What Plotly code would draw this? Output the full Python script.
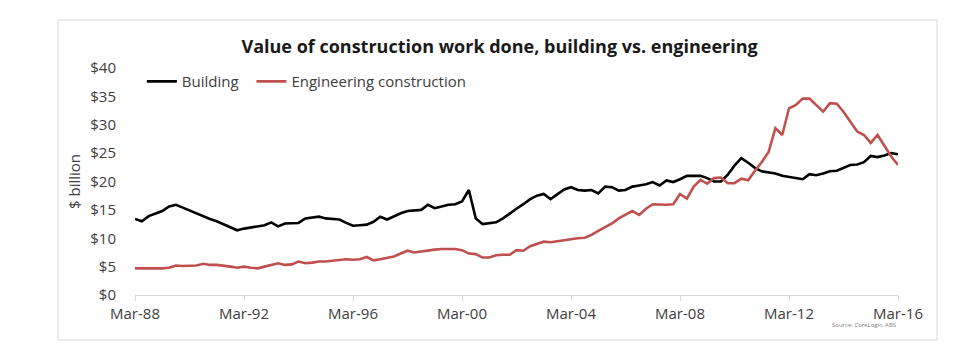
import pandas as pd
import plotly.graph_objects as go

quarters = pd.date_range("1988-03-01", periods=113, freq="3MS")

building = [
    13.4, 13.0, 13.9, 14.3, 14.8, 15.6, 15.9, 15.4, 14.9, 14.3,
    13.8, 13.4, 13.0, 12.5, 11.9, 11.4, 11.7, 11.9, 12.0, 12.3,
    12.8, 12.1, 12.6, 12.7, 12.7, 13.5, 13.7, 13.8, 13.5, 13.4,
    13.3, 12.7, 12.2, 12.3, 12.4, 12.9, 13.8, 13.3, 13.9, 14.4,
    14.8, 14.9, 15.0, 15.9, 15.3, 15.6, 15.9, 16.0, 16.5, 18.5,
    13.5, 12.5, 12.7, 12.8, 13.5, 14.4, 15.2, 16.0, 16.9, 17.5,
    17.8, 16.9, 17.8, 18.6, 19.0, 18.5, 18.4, 18.5, 17.9, 19.1,
    19.0, 18.4, 18.5, 19.1, 19.3, 19.5, 19.9, 19.3, 20.2, 19.9,
    20.4, 21.0, 21.0, 21.0, 20.6, 20.0, 20.0, 21.2, 22.8, 24.1,
    23.3, 22.4, 21.8, 21.6, 21.4, 21.0, 20.8, 20.6, 20.4, 21.3,
    21.1, 21.4, 21.8, 21.9, 22.4, 22.9, 23.0, 23.4, 24.5, 24.3,
    24.6, 25.0, 24.8,
]

engineering = [
    4.7, 4.7, 4.6, 4.6, 4.7, 4.8, 5.2, 5.1, 5.2, 5.2,
    5.5, 5.3, 5.3, 5.2, 5.0, 4.8, 5.0, 4.8, 4.7, 5.0,
    5.3, 5.6, 5.3, 5.4, 5.9, 5.6, 5.7, 5.9, 5.9, 6.0,
    6.1, 6.3, 6.2, 6.3, 6.7, 6.1, 6.3, 6.5, 6.8, 7.3,
    7.8, 7.5, 7.7, 7.9, 8.0, 8.1, 8.1, 8.1, 7.9, 7.3,
    7.2, 6.6, 6.6, 7.0, 7.1, 7.1, 7.9, 7.8, 8.6, 9.0,
    9.4, 9.3, 9.5, 9.7, 9.9, 10.0, 10.1, 10.6, 11.3, 11.9,
    12.6, 13.5, 14.1, 14.8, 14.1, 15.2, 16.0, 15.9, 15.9, 16.0,
    17.8, 17.0, 19.1, 20.3, 19.6, 20.6, 20.7, 19.7, 19.7, 20.5,
    20.2, 21.9, 23.4, 25.2, 29.4, 28.2, 32.9, 33.5, 34.6, 34.6,
    33.5, 32.3, 33.8, 33.7, 32.3, 30.5, 28.8, 28.2, 26.8, 28.2,
    26.2, 24.4, 22.9,
]

y_ticks = [0, 5, 10, 15, 20, 25, 30, 35, 40]
y_tick_labels = ["$" + str(v) for v in y_ticks]

FONT = "'Open Sans', Lato, sans-serif"
TXT = "#404040"
NB = "\u00a0"

fig = go.Figure()
fig.add_trace(go.Scatter(x=quarters, y=building, mode="lines", name="Building" + NB * 2,
                         line=dict(color="#000000", width=2.6)))
fig.add_trace(go.Scatter(x=quarters, y=engineering, mode="lines", name="Engineering construction",
                         line=dict(color="#c0504d", width=2.6)))

# page body has an 8px margin, so the figure is sized to fit inside 970x364
fig.update_layout(
    width=962, height=356,
    margin=dict(l=127, r=72, t=60, b=69),
    paper_bgcolor="white", plot_bgcolor="white",
    font=dict(family=FONT, size=15, color=TXT),
    title=dict(text="<b>Value of construction work done, building vs. engineering</b>",
               x=0.511, xanchor="center", y=0.890, yanchor="middle",
               font=dict(family=FONT, size=18, color="#1a1a1a")),
    showlegend=True,
    legend=dict(orientation="h", x=0.009, xanchor="left", y=0.94, yanchor="middle",
                bgcolor="rgba(0,0,0,0)", font=dict(size=15, color=TXT),
                itemwidth=30),
    xaxis=dict(
        type="date",
        range=[quarters[0], quarters[-1]],
        tickformat="%b-%y", dtick="M48", tick0=quarters[0],
        showgrid=False, showline=True, linecolor="#d9d9d9", linewidth=1,
        ticks="outside", ticklen=5, tickcolor="#d9d9d9",
        tickfont=dict(size=15, color=TXT), zeroline=False,
    ),
    yaxis=dict(
        range=[0, 40], tickvals=y_ticks, ticktext=y_tick_labels,
        showgrid=False, showline=False, zeroline=False, ticks="",
        ticklabelstandoff=18,
        tickfont=dict(size=15, color=TXT),
        title=dict(text="$ billion", font=dict(size=15, color=TXT), standoff=6),
    ),
)

fig.add_annotation(text="Source: CoreLogic, ABS", xref="paper", yref="paper",
                   x=1.0, y=-0.13, xanchor="right", yanchor="middle", showarrow=False,
                   font=dict(size=6, color="#808080"))

fig.add_shape(type="rect", xref="paper", yref="paper",
              x0=-0.1009, x1=1.0511, y0=-0.198, y1=1.2115,
              line=dict(color="#d9d9d9", width=1), fillcolor="rgba(0,0,0,0)", layer="below")

fig.write_html("out.html")
